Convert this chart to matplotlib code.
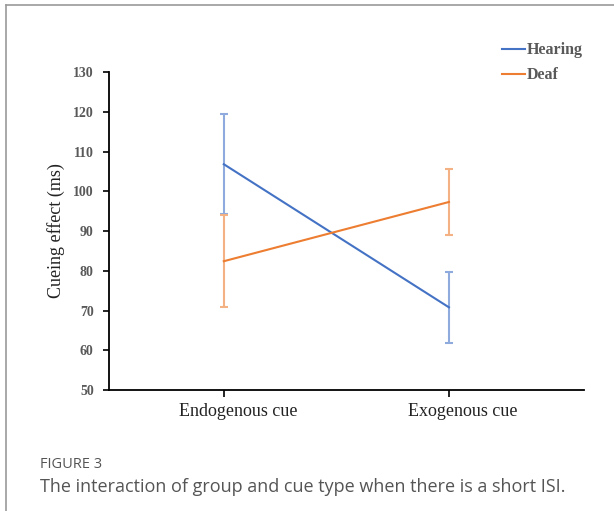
#!/usr/bin/env python
# plot.py - cueing effect by group and cue type (short ISI)
import matplotlib
matplotlib.use("Agg")
from matplotlib import pyplot as plt
from matplotlib.lines import Line2D
from matplotlib import transforms

# data
cues = ["Endogenous cue", "Exogenous cue"]
hearing = [106.8, 70.8]
hearing_err = [12.6, 9.0]
deaf = [82.4, 97.3]
deaf_err = [11.5, 8.3]
yticks = [50, 60, 70, 80, 90, 100, 110, 120, 130]

blue = "#4472C4"
orange = "#ED7D31"

fig = plt.figure(figsize=(6.14, 5.11), dpi=100)
ax = fig.add_axes([109 / 614, 1 - 390 / 511, (584 - 109) / 614, (390 - 72) / 511])

x = list(range(len(cues)))
# error bars first (lighter), then the lines
ax.errorbar(x, hearing, yerr=hearing_err, fmt="none", ecolor="#8FAADC",
            elinewidth=1.5, capsize=3, capthick=1.5)
ax.errorbar(x, deaf, yerr=deaf_err, fmt="none", ecolor="#F4B183",
            elinewidth=1.5, capsize=3, capthick=1.5)
ax.plot(x, hearing, color=blue, lw=1.5)
ax.plot(x, deaf, color=orange, lw=1.5)

ax.set_xlim(-0.51, 1.6)
ax.set_ylim(50, 130)
ax.set_yticks(yticks)
ax.set_yticklabels([str(v) for v in yticks], fontfamily="Liberation Serif",
                   fontweight="bold", fontsize=10, color="#595959")
ax.set_xticks(x)
ax.set_xticklabels(cues, fontfamily="Liberation Serif", fontsize=13, color="#222222")
ax.tick_params(axis="y", direction="out", length=4, width=1.2, pad=7)
ax.tick_params(axis="x", direction="out", length=5, width=1.2, pad=4)
# category labels sit a little right of their tick in the original
shift = transforms.ScaledTranslation(14 / 100, 0, fig.dpi_scale_trans)
for lab in ax.get_xticklabels():
    lab.set_transform(lab.get_transform() + shift)
for s in ("top", "right"):
    ax.spines[s].set_visible(False)
for s in ("left", "bottom"):
    ax.spines[s].set_linewidth(1.3)
ax.set_ylabel("Cueing effect (ms)", fontfamily="Liberation Serif", fontsize=13,
              color="#222222", labelpad=6)

# legend in the top right corner of the figure
handles = [Line2D([], [], color=blue, lw=1.5), Line2D([], [], color=orange, lw=1.5)]
fig.legend(handles, ["Hearing", "Deaf"], loc="upper left", bbox_to_anchor=(488 / 614, 1 - 28 / 511),
           frameon=False, handlelength=1.4, handletextpad=0.1, labelspacing=0.55,
           prop={"family": "Liberation Serif", "weight": "bold", "size": 11.5},
           labelcolor="#595959")

# figure frame (top and left grey lines)
fig.add_artist(Line2D([6 / 614, 1], [1 - 5 / 511, 1 - 5 / 511], color="#9a9a9a", lw=1.2))
fig.add_artist(Line2D([6 / 614, 6 / 614], [0, 1 - 5 / 511], color="#9a9a9a", lw=1.2))

# caption
fig.text(40 / 614, 1 - 464 / 511, "FIGURE 3", fontfamily="Open Sans", fontsize=10.5,
         color="#555555", va="center")
fig.text(40 / 614, 1 - 487 / 511, "The interaction of group and cue type when there is a short ISI.",
         fontfamily="Open Sans", fontsize=13, color="#555555", va="center")

plt.savefig("out.png", dpi=100)
